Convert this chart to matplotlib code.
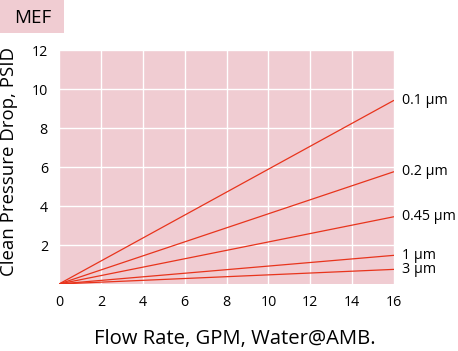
import matplotlib
matplotlib.use("Agg")
import matplotlib.pyplot as plt
from matplotlib.patches import Rectangle

plt.rcParams['font.family'] = ['Open Sans', 'DejaVu Sans']

flow = [0, 16]
labels = ["0.1 µm", "0.2 µm", "0.45 µm", "1 µm", "3 µm"]
end_values = [9.42, 5.76, 3.45, 1.47, 0.75]
xticks = [0, 2, 4, 6, 8, 10, 12, 14, 16]
yticks = [2, 4, 6, 8, 10, 12]

pink = "#f0ccd2"
red = "#e8341c"

W, H = 458, 351
fig = plt.figure(figsize=(W/100, H/100), dpi=100)
ax = fig.add_axes([59/W, 1-284/H, 335/W, 234/H])
ax.set_facecolor(pink)
for s in ax.spines.values():
    s.set_visible(False)

for lab, v in zip(labels, end_values):
    ax.plot(flow, [0, v], color=red, lw=0.9, solid_capstyle='butt')
    ax.annotate(lab, xy=(16, v), xytext=(6, 0), textcoords='offset points',
                va='center', ha='left', fontsize=10.3, annotation_clip=False)

ax.set_xlim(0, 16)
ax.set_ylim(0, 12)
ax.set_xticks(xticks)
ax.set_yticks(yticks)
ax.grid(True, color='white', lw=1)
ax.set_axisbelow(True)
ax.tick_params(length=0, labelsize=10.3, pad=8)

fig.canvas.draw()
renderer = fig.canvas.get_renderer()

def fit(t, target):
    bb = t.get_window_extent(renderer)
    size = max(bb.width, bb.height)
    t.set_fontsize(t.get_fontsize() * target / size)

xl = fig.text(235/W, 1-339/H, "Flow Rate, GPM, Water@AMB.", ha='center', va='center', fontsize=13)
fit(xl, 280)
yl = fig.text(9/W, 1-162/H, "Clean Pressure Drop, PSID", ha='center', va='center',
              rotation=90, fontsize=13)
fit(yl, 227)

fig.patches.append(Rectangle((0, 1-33/H), 64/W, 33/H, transform=fig.transFigure,
                             facecolor=pink, edgecolor='none'))
mt = fig.text(33/W, 1-18/H, "MEF", ha='center', va='center', fontsize=12)
fit(mt, 37)

fig.savefig("out.png", dpi=100)
